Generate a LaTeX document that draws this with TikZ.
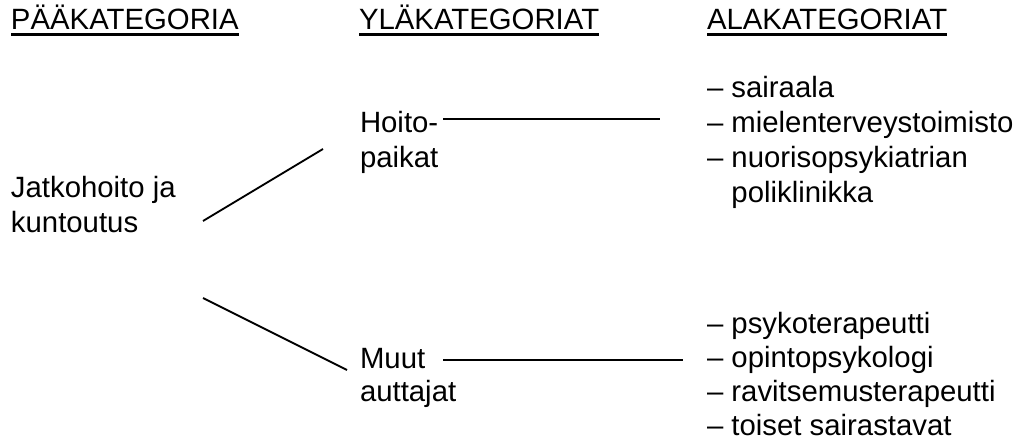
\documentclass[tikz,border=0pt]{standalone}
\usepackage{fontspec}
\setmainfont{Liberation Sans}
\begin{document}
\begin{tikzpicture}[x=0.75pt,y=-0.75pt,
  every node/.style={inner sep=0pt, outer sep=0pt, anchor=base west, align=left,
    font=\fontsize{22}{26.25}\selectfont},
  tight/.style={font=\fontsize{22}{25.5}\selectfont},
  tighter/.style={font=\fontsize{22}{24.5}\selectfont},
  link/.style={line width=1.4pt},
  headrule/.style={line width=2.2pt}]
\useasboundingbox (0,0) rectangle (1019,441);

% column headings
\node (hmain) at (11,30) {PÄÄKATEGORIA};
\node (hupper) at (359,30) {YLÄKATEGORIAT};
\node (hsub) at (707,30) {ALAKATEGORIAT};
\foreach \h in {hmain,hupper,hsub}
  \draw[headrule] ([yshift=-3.6pt]\h.base west) -- ([yshift=-3.6pt]\h.base east);

% main category (placed by the baseline of its last line)
\node (main) at (11,233) {Jatkohoito ja\\kuntoutus};

% upper categories
\node (care) at (360,168) {Hoito-\\paikat};
\node[tighter] (helpers) at (360,401) {Muut\\auttajat};

% subcategories
\node (caresub) at (707,203) {– sairaala\\– mielenterveystoimisto\\– nuorisopsykiatrian\\\hphantom{– }poliklinikka};
\node[tight] (helpsub) at (707,435) {– psykoterapeutti\\– opintopsykologi\\– ravitsemusterapeutti\\– toiset sairastavat};

% connector ends
\coordinate (mainup) at (203,221);
\coordinate (maindown) at (203,298);
\coordinate (carein) at (323,149);
\coordinate (helpin) at (347,370);
\coordinate (careout) at (443,119);
\coordinate (helpout) at (443,360);
\coordinate (caresubin) at (660,119);
\coordinate (helpsubin) at (683,360);

\draw[link] (mainup) -- (carein);
\draw[link] (maindown) -- (helpin);
\draw[link] (careout) -- (caresubin);
\draw[link] (helpout) -- (helpsubin);
\end{tikzpicture}
\end{document}
